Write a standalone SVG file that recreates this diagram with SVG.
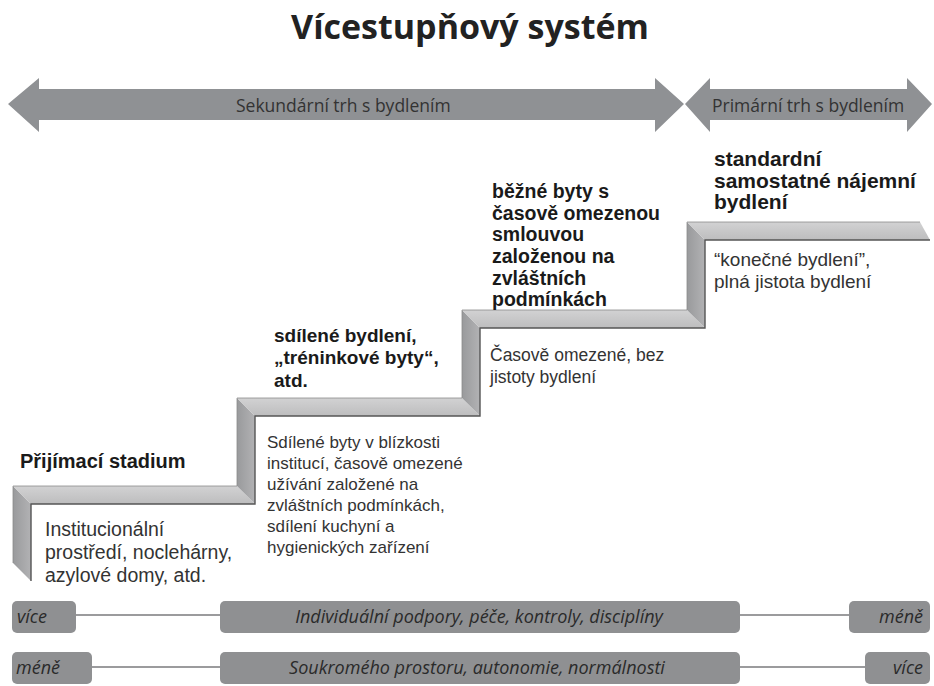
<svg xmlns="http://www.w3.org/2000/svg" width="934" height="686" viewBox="0 0 934 686">
<defs>
<linearGradient id="gH" x1="0" y1="0" x2="0" y2="1">
<stop offset="0" stop-color="#d2d2d3"/>
<stop offset="1" stop-color="#bdbdbe"/>
</linearGradient>
<linearGradient id="gV" x1="0" y1="0" x2="1" y2="0">
<stop offset="0" stop-color="#999a9c"/>
<stop offset="1" stop-color="#b2b2b4"/>
</linearGradient>
<style>
.title{font-family:"Open Sans","DejaVu Sans",sans-serif;font-weight:bold;font-size:34px;fill:#222;text-anchor:middle}
.arrow{fill:#8f9194}
.atxt{font-family:"Open Sans","DejaVu Sans",sans-serif;font-size:17.5px;fill:#333}
.hf{fill:url(#gH)}
.vf{fill:url(#gV)}
.edge{fill:none;stroke:#555;stroke-width:1.4}
.oedge{fill:none;stroke:#8a8a8a;stroke-width:0.8}
.head{font-family:"Liberation Sans",Arial,sans-serif;font-weight:bold;fill:#1a1a1a}
.body{font-family:"Liberation Sans",Arial,sans-serif;fill:#333}
.box{fill:#8f9092}
.btxt{font-family:"Open Sans","DejaVu Sans",sans-serif;font-style:italic;font-size:18px;fill:#2a2a2a}
.conn{stroke:#7a7a7c;stroke-width:1.6;fill:none}
</style>
</defs>
<rect width="934" height="686" fill="#ffffff"/>

<g id="title">
<text class="title" x="470" y="39">Vícestupňový systém</text>
</g>

<g id="arrow-secondary">
<polygon class="arrow" points="8,104 39,78 39,89 655,89 655,78 684,104 655,132 655,120 39,120 39,132"/>
<text class="atxt" x="236" y="112">Sekundární trh s bydlením</text>
</g>

<g id="arrow-primary">
<polygon class="arrow" points="685,104 710,78 710,89 907,89 907,78 932,104 907,132 907,120 710,120 710,132"/>
<text class="atxt" x="712" y="112">Primární trh s bydlením</text>
</g>

<g id="stairs">
<polygon class="vf" points="13,486 31,504 31,581 13,563"/>
<polygon class="hf" points="13,486 237,486 255,504 31,504"/>
<polygon class="vf" points="237,486 237,398 255,416 255,504"/>
<polygon class="hf" points="237,398 462,398 480,416 255,416"/>
<polygon class="vf" points="462,398 462,310 480,328 480,416"/>
<polygon class="hf" points="462,310 687,310 705,328 480,328"/>
<polygon class="vf" points="687,310 687,222 705,240 705,328"/>
<polygon class="hf" points="687,222 920,222 930,240 705,240"/>
<polyline class="oedge" points="13,563 13,486 237,486 237,398 462,398 462,310 687,310 687,222 920,222"/>
<polyline class="edge" points="31,581 31,504 255,504 255,416 480,416 480,328 705,328 705,240 930,240"/>
</g>

<g id="step1">
<text class="head" font-size="20" x="20" y="468">Přijímací stadium</text>
<text class="body" font-size="19.5" x="45">
<tspan x="45" y="536">Institucionální</tspan>
<tspan x="45" y="559">prostředí, noclehárny,</tspan>
<tspan x="45" y="582">azylové domy, atd.</tspan>
</text>
</g>

<g id="step2">
<text class="head" font-size="19" x="274">
<tspan x="274" y="342">sdílené bydlení,</tspan>
<tspan x="274" y="364">„tréninkové byty“,</tspan>
<tspan x="274" y="387">atd.</tspan>
</text>
<text class="body" font-size="17" x="267">
<tspan x="267" y="448">Sdílené byty v blízkosti</tspan>
<tspan x="267" y="469">institucí, časově omezené</tspan>
<tspan x="267" y="490">užívání založené na</tspan>
<tspan x="267" y="511">zvláštních podmínkách,</tspan>
<tspan x="267" y="532">sdílení kuchyní a</tspan>
<tspan x="267" y="553">hygienických zařízení</tspan>
</text>
</g>

<g id="step3">
<text class="head" font-size="19.5" x="492">
<tspan x="492" y="198">běžné byty s</tspan>
<tspan x="492" y="220">časově omezenou</tspan>
<tspan x="492" y="241">smlouvou</tspan>
<tspan x="492" y="263">založenou na</tspan>
<tspan x="492" y="285">zvláštních</tspan>
<tspan x="492" y="306">podmínkách</tspan>
</text>
<text class="body" font-size="17.5" x="490">
<tspan x="490" y="361">Časově omezené, bez</tspan>
<tspan x="490" y="383">jistoty bydlení</tspan>
</text>
</g>

<g id="step4">
<text class="head" font-size="21" x="714">
<tspan x="714" y="166">standardní</tspan>
<tspan x="714" y="188">samostatné nájemní</tspan>
<tspan x="714" y="209">bydlení</tspan>
</text>
<text class="body" font-size="19" x="714">
<tspan x="714" y="266">“konečné bydlení”,</tspan>
<tspan x="714" y="288">plná jistota bydlení</tspan>
</text>
</g>

<g id="connectors">
<line class="conn" x1="76" y1="615" x2="221" y2="615"/>
<line class="conn" x1="740" y1="615" x2="849" y2="615"/>
<line class="conn" x1="92" y1="667" x2="221" y2="667"/>
<line class="conn" x1="740" y1="667" x2="865" y2="667"/>
</g>

<g id="row1-left">
<rect class="box" x="12" y="601" width="64" height="32" rx="5"/>
<text class="btxt" x="17" y="623">více</text>
</g>
<g id="row1-center">
<rect class="box" x="220" y="601" width="520" height="32" rx="5"/>
<text class="btxt" x="479" y="623" text-anchor="middle">Individuální podpory, péče, kontroly, disciplíny</text>
</g>
<g id="row1-right">
<rect class="box" x="849" y="601" width="81" height="32" rx="5"/>
<text class="btxt" x="923" y="623" text-anchor="end">méně</text>
</g>
<g id="row2-left">
<rect class="box" x="12" y="652" width="80" height="32" rx="5"/>
<text class="btxt" x="16" y="674">méně</text>
</g>
<g id="row2-center">
<rect class="box" x="220" y="652" width="520" height="32" rx="5"/>
<text class="btxt" x="477" y="674" text-anchor="middle">Soukromého prostoru, autonomie, normálnosti</text>
</g>
<g id="row2-right">
<rect class="box" x="865" y="652" width="65" height="32" rx="5"/>
<text class="btxt" x="923" y="674" text-anchor="end">více</text>
</g>
</svg>
